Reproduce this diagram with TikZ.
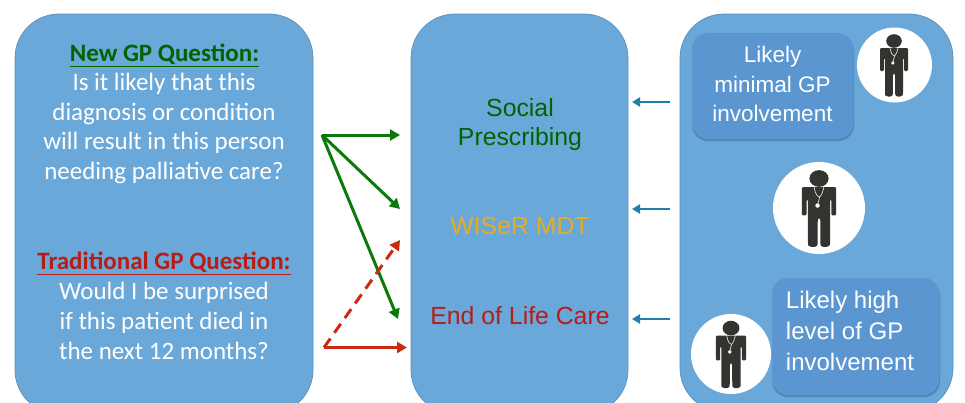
\documentclass[tikz,border=0pt]{standalone}
\usepackage{fontspec}
\setmainfont{Carlito}
\newfontfamily\armo{Liberation Sans}
\usetikzlibrary{arrows.meta}
\definecolor{panelblue}{HTML}{6AA8D9}
\definecolor{panelline}{HTML}{5F8FB5}
\definecolor{boxblue}{HTML}{5B96D1}
\definecolor{boxshade}{HTML}{4F84B8}
\definecolor{gpgreen}{HTML}{0B7A0B}
\definecolor{txtgreen}{HTML}{006400}
\definecolor{gpred}{HTML}{CC2A10}
\definecolor{txtred}{HTML}{B81C16}
\definecolor{gporange}{HTML}{E8AC1C}
\definecolor{teal2}{HTML}{1E7FA8}
\definecolor{ink}{HTML}{33332F}
\tikzset{
 x=1pt,y=-1pt,
 panel/.style={draw=panelline,line width=.7pt,fill=panelblue,rounded corners=44pt},
 subbox/.style={fill=boxblue,rounded corners=16pt},
 subshade/.style={fill=boxshade,rounded corners=16pt},
 disc/.style={circle,fill=white,inner sep=0pt,minimum size=#1},
 qtxt/.style={text=white,align=center,font=\fontsize{25}{29.5}\selectfont,inner sep=0pt},
 qtxtb/.style={text=white,align=center,font=\fontsize{25}{30}\selectfont,inner sep=0pt},
 qhead/.style={align=center,font=\fontsize{25}{30}\selectfont\bfseries,inner sep=0pt},
 mtxt/.style={align=center,font=\armo\fontsize{24.8}{29}\selectfont,inner sep=0pt},
 rtxt/.style={text=white,align=center,inner sep=0pt,font=\armo\fontsize{22.5}{29.5}\selectfont},
 rtxtb/.style={text=white,align=left,inner sep=0pt,font=\armo\fontsize{24}{31}\selectfont},
 garrow/.style={draw=gpgreen,line width=3pt,-{Triangle[length=10pt,width=11pt]}},
 rarrow/.style={draw=gpred,line width=3pt,-{Triangle[length=10pt,width=11pt]}},
 rdash/.style={rarrow,dash pattern=on 11pt off 7pt},
 tarrow/.style={draw=teal2,line width=2.2pt,-{Triangle[length=8pt,width=9pt]}},
}
% person figure, drawn in a circle of radius 37 and scaled
\newcommand{\gpfigure}[3]{%
 \begin{scope}[shift={(#1,#2)},scale=#3]
  \fill[ink] (0,-24) ellipse[x radius=7.8,y radius=6.8];
  \fill[ink,rounded corners=1.2pt] (-14,-17) -- (14,-17) -- (14,6) -- (10,6) -- (10,-7) -- (9,-7)
     -- (9,29) [rounded corners=2.5pt] -- (8.5,31.5) -- (1.2,31.5) -- (1,8) -- (-1,8) -- (-1.2,31.5) -- (-8.5,31.5) -- (-9,29)
     [rounded corners=1.2pt] -- (-9,-7) -- (-10,-7) -- (-10,6) -- (-14,6) -- cycle;
  \draw[white,line width=.55pt] (-4,-17) .. controls (-3,-11) and (-1,-9) .. (0.5,-9) .. controls (2,-10) and (3,-13) .. (4,-17);
  \draw[white,line width=.55pt] (0.5,-9) -- (-1,-3);
  \fill[white] (-1.2,-2) circle[radius=1.8];
 \end{scope}}
\begin{document}
\begin{tikzpicture}
\clip (0,0) rectangle (965,402);
\fill[white] (0,0) rectangle (965,402);
% panels
\filldraw[panel] (15,14) rectangle (313,414);
\filldraw[panel] (411,14) rectangle (628,414);
\filldraw[panel] (680,14) rectangle (953,412);
% left text
\node[qhead,text=txtgreen] (newq) at (164.5,55) {\underline{New GP Question:}};
\node[qtxt,anchor=north] (newb) at (164,73) {Is it likely that this\\diagnosis or condition\\will result in this person\\needing palliative care?};
\node[qhead,text=txtred] (tradq) at (164,263) {\underline{Traditional GP Question:}};
\node[qtxtb,anchor=north] (tradb) at (164,282) {Would I be surprised\\if this patient died in\\the next 12 months?};
% middle text
\node[mtxt,text=txtgreen] (social) at (520,125) {Social\\Prescribing};
\node[mtxt,text=gporange] (wiser) at (520,226) {WISeR MDT};
\node[mtxt,text=txtred] (eol) at (520,316) {End of Life Care};
% right boxes
\fill[subshade] (692,35) rectangle (854,141);
\fill[subbox] (692,33) rectangle (853.5,139);
\fill[subshade] (772,280) rectangle (940,397);
\fill[subbox] (772,278) rectangle (939.5,395);
\node[rtxt] (minimal) at (772.5,84) {Likely\\minimal GP\\involvement};
\node[rtxtb] (high) at (850,331) {Likely high\\level of GP\\involvement};
% person discs
\node[disc=75pt] (p1) at (894.5,65) {};
\node[disc=92pt] (p2) at (819,208) {};
\node[disc=80pt] (p3) at (731,354) {};
\gpfigure{894}{65}{1}
\gpfigure{819}{208}{1.23}
\gpfigure{731}{354}{1.08}
% connector coordinates
\coordinate (g0) at (322,135);
\coordinate (g1) at (400,135);
\coordinate (g2) at (400,209);
\coordinate (g3) at (398,319);
\coordinate (r0) at (324,347.5);
\coordinate (r1) at (407,347.5);
\coordinate (r2) at (400,240);
\coordinate (t1a) at (670,102);
\coordinate (t1b) at (632,102);
\coordinate (t2a) at (670,209);
\coordinate (t2b) at (632,209);
\coordinate (t3a) at (670,319);
\coordinate (t3b) at (632,319);
\draw[garrow] (g0) -- (g1);
\draw[garrow] (g0) -- (g2);
\draw[garrow] (g0) -- (g3);
\draw[rdash] (r0) -- (r2);
\draw[rarrow] (r0) -- (r1);
\draw[tarrow] (t1a) -- (t1b);
\draw[tarrow] (t2a) -- (t2b);
\draw[tarrow] (t3a) -- (t3b);
\end{tikzpicture}
\end{document}
